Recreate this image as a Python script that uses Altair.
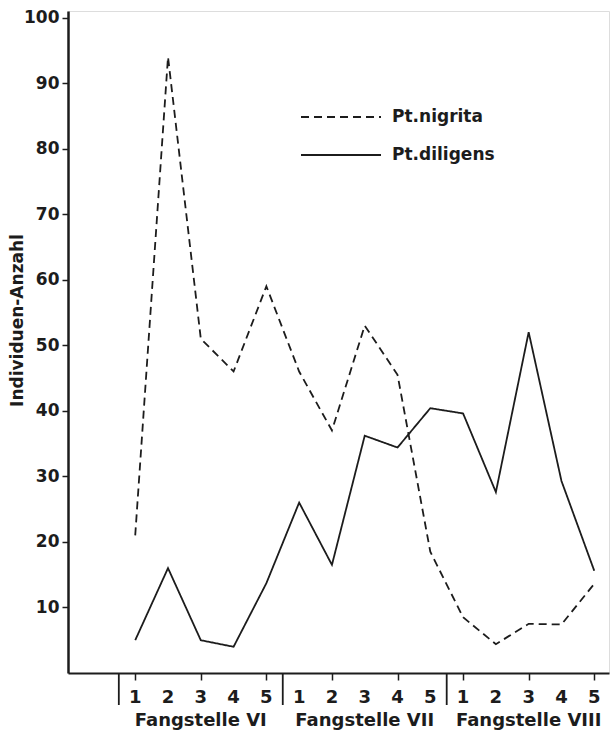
import altair as alt
import pandas as pd

positions = list(range(1, 16))
tick_labels = ["1", "2", "3", "4", "5"] * 3
nigrita = [21, 94, 51, 46, 59, 46, 37, 53, 45.5, 18.5, 8.5, 4.4, 7.5, 7.4, 13.6]
diligens = [5, 16, 5, 4, 13.7, 26, 16.5, 36.2, 34.4, 40.4, 39.6, 27.6, 52, 29.3, 15.6]
series_names = ["Pt.nigrita", "Pt.diligens"]
y_ticks = [10, 20, 30, 40, 50, 60, 70, 80, 90, 100]
group_centers = [3, 8, 13]
group_labels = ["Fangstelle VI", "Fangstelle VII", "Fangstelle VIII"]
separators = [0.5, 5.5, 10.5]

FONT = "DejaVu Sans"
INK = "#1c1c1c"

rows = []
for p, v in zip(positions, nigrita):
    rows.append({"pos": p, "value": v, "species": series_names[0]})
for p, v in zip(positions, diligens):
    rows.append({"pos": p, "value": v, "species": series_names[1]})
df = pd.DataFrame(rows)

xscale = alt.Scale(domain=[-1.05, 15.45], nice=False, zero=False)
yscale = alt.Scale(domain=[0, 101], nice=False)

lines = alt.Chart(df).mark_line(color=INK, strokeWidth=1.8).encode(
    x=alt.X("pos:Q", scale=xscale,
            axis=alt.Axis(values=positions, title=None, grid=False, labels=False,
                          tickSize=7, domainWidth=2,
                          domainColor=INK, tickColor=INK, tickWidth=1.5)),
    y=alt.Y("value:Q", scale=yscale,
            axis=alt.Axis(values=y_ticks, title="Individuen-Anzahl", grid=False,
                          tickSize=6, labelPadding=3, domainWidth=2.5,
                          labelFontSize=17, labelFont=FONT, labelFontWeight="bold",
                          labelColor=INK, domainColor=INK, tickColor=INK, tickWidth=1.5,
                          titleFont=FONT, titleFontSize=17, titleFontWeight="bold",
                          titleColor=INK, titleX=-46, titleY=309, titleAngle=-90,
                          titleBaseline="alphabetic", titleAlign="center")),
    strokeDash=alt.StrokeDash("species:N",
                              scale=alt.Scale(domain=series_names, range=[[8, 5], [1, 0]]),
                              legend=alt.Legend(title=None, orient="none", legendX=232, legendY=96,
                                                symbolType="stroke", symbolSize=6400,
                                                symbolStrokeWidth=1.8, symbolStrokeColor=INK,
                                                labelFontSize=17, labelFont=FONT,
                                                labelFontWeight="bold", labelColor=INK,
                                                labelOffset=10, rowPadding=18, clipHeight=20,
                                                padding=0)),
    detail="species:N",
)

tick_df = pd.DataFrame({"x": positions, "label": tick_labels})
ticklabels = alt.Chart(tick_df).mark_text(font=FONT, fontSize=18, fontWeight="bold",
                                          color=INK, baseline="alphabetic", align="center").encode(
    x=alt.X("x:Q", scale=xscale),
    y=alt.value(692),
    text="label:N",
)

sep_df = pd.DataFrame({"x": separators})
seps = alt.Chart(sep_df).mark_rule(color=INK, strokeWidth=1.8).encode(
    x=alt.X("x:Q", scale=xscale),
    y=alt.value(663),
    y2=alt.value(694),
)

grp_df = pd.DataFrame({"x": group_centers, "label": group_labels})
groups = alt.Chart(grp_df).mark_text(font=FONT, fontSize=18, fontWeight="bold",
                                     color=INK, baseline="alphabetic", align="center").encode(
    x=alt.X("x:Q", scale=xscale),
    y=alt.value(715),
    text="label:N",
)

chart = alt.layer(lines, ticklabels, seps, groups).properties(
    width=541, height=662,
    padding={"left": 68, "top": 11, "right": 1, "bottom": 58},
    autosize="none",
).configure_view(stroke=None).configure(background="white")

chart.save("out.html", embed_options={"renderer": "svg", "actions": False})
